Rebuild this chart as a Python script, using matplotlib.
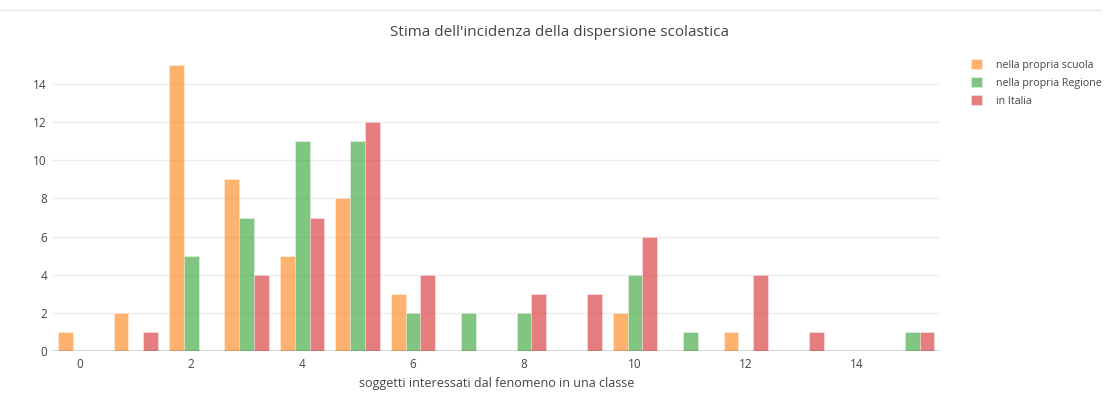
import numpy as np
import matplotlib.pyplot as plt
from matplotlib.lines import Line2D

plt.rcParams['font.family'] = ['Open Sans', 'DejaVu Sans']

# data
categories = list(range(16))
scuola = [1, 2, 15, 9, 5, 8, 3, 0, 0, 0, 2, 0, 1, 0, 0, 0]
regione = [0, 0, 5, 7, 11, 11, 2, 2, 2, 0, 4, 1, 0, 0, 0, 1]
italia = [0, 1, 0, 4, 7, 12, 4, 0, 3, 3, 6, 0, 4, 1, 0, 1]
series_names = ['nella propria scuola', 'nella propria Regione', 'in Italia']
colors = ['#ff7f0e', '#2ca02c', '#d62728']

W, H = 1119, 399
fig = plt.figure(figsize=(W / 100, H / 100), dpi=100)
left, right, top, bottom = 52.5, 940, 50, 351
ax = fig.add_axes([left / W, 1 - bottom / H, (right - left) / W, (bottom - top) / H])

x = np.array(categories)
w = 0.8 / 3
for i, (vals, c, name) in enumerate(zip([scuola, regione, italia], colors, series_names)):
    ax.bar(x + (i - 1) * w, vals, width=w, color=c, alpha=0.6,
           edgecolor='white', linewidth=0.4, label=name, zorder=3)

ax.set_xlim(-0.5, 15.5)
ax.set_ylim(0, 15.79)
ax.set_xticks(range(0, 15, 2))
ax.set_yticks(range(0, 15, 2))
ax.grid(axis='y', color='#eeeeee', linewidth=1, zorder=0)
ax.axhline(0, color='#444444', linewidth=1, zorder=4)
for s in ax.spines.values():
    s.set_visible(False)
ax.tick_params(length=0, labelsize=8.5, labelcolor='#444444')
ax.tick_params(axis='x', pad=5)
ax.tick_params(axis='y', pad=4)
ax.set_xlabel('soggetti interessati dal fenomeno in una classe', fontsize=9,
              color='#444444', labelpad=4)

fig.text(0.5, 1 - 33 / H, "Stima dell'incidenza della dispersione scolastica",
         ha='center', va='center', fontsize=11, color='#444444')

# thin line across the top of the chart area
fig.add_artist(Line2D([0, 1100 / W], [1 - 10 / H, 1 - 10 / H], color='#e6e6e6', linewidth=1))

leg = fig.legend(loc='upper left', bbox_to_anchor=(967 / W, 1 - 55 / H), frameon=False,
                 fontsize=7.7, labelcolor='#444444', handlelength=1.0, handleheight=1.0,
                 handletextpad=1.3, labelspacing=0.62, borderaxespad=0)

fig.savefig('out.png', dpi=100)
